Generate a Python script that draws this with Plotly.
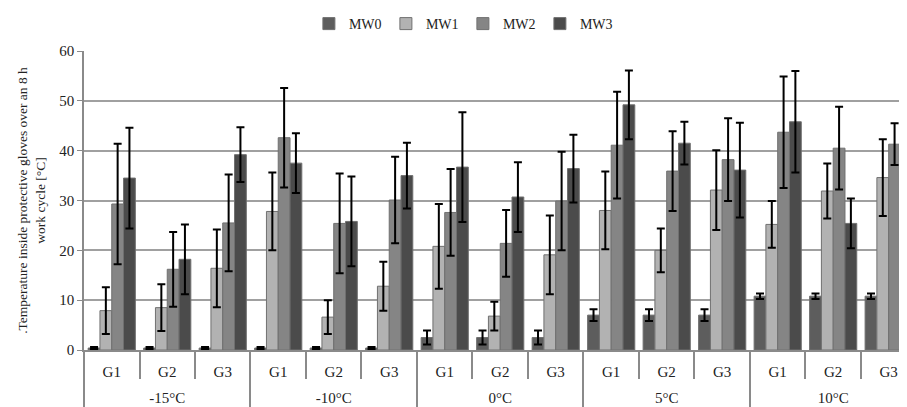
import plotly.graph_objects as go

temps = ["-15°C", "-10°C", "0°C", "5°C", "10°C"]
groups = ["G1", "G2", "G3"]
series = ["MW0", "MW1", "MW2", "MW3"]

mw0 = [0.4, 0.4, 0.4, 0.4, 0.4, 0.4, 2.5, 2.5, 2.5, 7.0, 7.0, 7.0, 10.8, 10.8, 10.8]
mw0_err = [0.2, 0.2, 0.2, 0.2, 0.2, 0.2, 1.4, 1.4, 1.4, 1.2, 1.2, 1.2, 0.55, 0.55, 0.55]
mw1 = [7.9, 8.5, 16.4, 27.8, 6.6, 12.8, 20.8, 6.8, 19.1, 28.0, 20.0, 32.1, 25.2, 31.9, 34.6]
mw1_err = [4.7, 4.7, 7.8, 7.8, 3.4, 4.9, 8.5, 2.9, 7.9, 7.8, 4.4, 8.0, 4.7, 5.5, 7.7]
mw2 = [29.3, 16.2, 25.5, 42.6, 25.4, 30.1, 27.6, 21.4, 29.9, 41.1, 35.9, 38.2, 43.7, 40.5, 41.3]
mw2_err = [12.1, 7.5, 9.7, 10.0, 10.0, 8.7, 8.7, 6.7, 9.9, 10.7, 8.0, 8.3, 11.2, 8.3, 4.2]
mw3 = [34.5, 18.2, 39.2, 37.5, 25.8, 35.0, 36.7, 30.7, 36.4, 49.2, 41.5, 36.1, 45.8, 25.4, 41.3]
mw3_err = [10.1, 7.0, 5.5, 6.0, 9.0, 6.6, 11.0, 7.0, 6.8, 6.9, 4.3, 9.5, 10.2, 5.0, 4.8]

values = [mw0, mw1, mw2, mw3]
errors = [mw0_err, mw1_err, mw2_err, mw3_err]
colors = ["#5d5d5d", "#b2b2b2", "#858585", "#4b4b4b"]

# category positions (index of each temperature/group pair on the axis)
n_g = len(groups)
inner_labels = [g for t in temps for g in groups]
pos = list(range(len(inner_labels)))
inner_bounds = [p - 0.5 for p in pos] + [pos[-1] + 0.5]
outer_centers = [i * n_g + (n_g - 1) / 2 for i in range(len(temps))]
outer_bounds = [i * n_g - 0.5 for i in range(len(temps) + 1)]

fig = go.Figure()
for name, v, e, c in zip(series, values, errors, colors):
    fig.add_trace(go.Bar(
        name=name, x=pos, y=v,
        marker=dict(color=c, line=dict(color="#707070", width=1)),
        error_y=dict(type="data", array=e, visible=True, color="black",
                     thickness=2, width=4),
    ))
# invisible helper so the outer (temperature) axis is drawn
fig.add_trace(go.Scatter(x=outer_centers, y=[0] * len(outer_centers), xaxis="x2",
                         mode="none", showlegend=False, hoverinfo="skip"))

xr = [-0.5, 14.33]
fig.update_layout(
    width=899, height=399,
    margin=dict(l=76, r=0, t=43, b=57),
    barmode="group", bargap=0.15, bargroupgap=0,
    plot_bgcolor="white", paper_bgcolor="white",
    font=dict(family="Liberation Serif", size=15, color="#222222"),
    legend=dict(orientation="h", xref="container", x=0.506, xanchor="center",
                yref="container", y=1.0, yanchor="top",
                font=dict(size=14), itemwidth=30, traceorder="normal",
                entrywidth=32, entrywidthmode="pixels"),
    showlegend=True,
    xaxis=dict(
        range=xr, tickmode="array", tickvals=pos, ticktext=inner_labels,
        ticks="", showline=True, linecolor="#8a8a8a", linewidth=1.5,
        showgrid=False, zeroline=False, tickfont=dict(size=15),
        ticklabelstandoff=7,
        minor=dict(tickmode="array", tickvals=inner_bounds, ticks="outside",
                   ticklen=27, tickcolor="#8a8a8a", tickwidth=1.5, showgrid=False),
    ),
    xaxis2=dict(
        overlaying="x", anchor="y", side="bottom", range=xr,
        tickmode="array", tickvals=outer_centers, ticktext=temps,
        ticks="", showline=False, showgrid=False, zeroline=False,
        tickfont=dict(size=15), ticklabelstandoff=37,
        minor=dict(tickmode="array", tickvals=outer_bounds, ticks="outside",
                   ticklen=57, tickcolor="#8a8a8a", tickwidth=1.5, showgrid=False),
    ),
)
fig.update_yaxes(
    range=[0, 60], dtick=10, showline=True, linecolor="#8a8a8a", linewidth=1.5,
    ticks="outside", ticklen=5, tickcolor="#8a8a8a",
    showgrid=True, gridcolor="#a0a0a0", gridwidth=1.5,
    zeroline=False, tickfont=dict(size=15),
    title=dict(text=".Temperature inside protective gloves over an 8 h<br>work cycle [°C]",
               font=dict(size=13.5), standoff=11),
)

fig.write_html("out.html")
